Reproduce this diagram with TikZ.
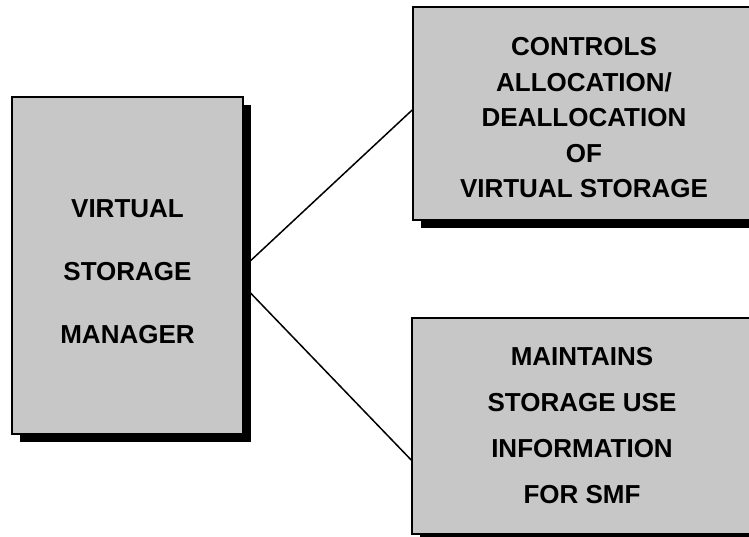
\documentclass[tikz,border=0pt]{standalone}
\usepackage{fontspec}
\setmainfont{Liberation Sans}
\usetikzlibrary{shadows,positioning}

\begin{document}
\begin{tikzpicture}[
        x=1pt, y=1pt,
        block/.style={draw, line width=1.6pt, fill=black!22, align=center, inner sep=0pt,
            general shadow={fill=black, shadow xshift=8pt, shadow yshift=-8pt}},
        link/.style={draw, line width=1.5pt}
    ]

    \clip (0,0) rectangle (749,-536);

    % Nodes
    \node (vsm) [block, minimum width=231pt, minimum height=337pt,
        font=\bfseries\fontsize{26}{63}\selectfont] at (127.5,-265.5)
        {\rule{0pt}{31pt}VIRTUAL\\ STORAGE\\ MANAGER};

    \node (ctl) [block, minimum width=342pt, minimum height=213pt,
        font=\bfseries\fontsize{26}{35.5}\selectfont] at (584,-113.5)
        {\rule{0pt}{27pt}CONTROLS\\ ALLOCATION/\\ DEALLOCATION\\ OF\\ VIRTUAL STORAGE};

    \node (smf) [block, minimum width=340pt, minimum height=216pt,
        font=\bfseries\fontsize{26}{46}\selectfont] at (582,-426)
        {MAINTAINS\\ STORAGE USE\\ INFORMATION\\ FOR SMF};

    % Edges
    \draw[link] ([yshift=-1.5pt]vsm.east) -- ([yshift=3.5pt]ctl.west);
    \draw[link] ([yshift=-20.5pt]vsm.east) -- ([yshift=-34pt]smf.west);

\end{tikzpicture}
\end{document}
